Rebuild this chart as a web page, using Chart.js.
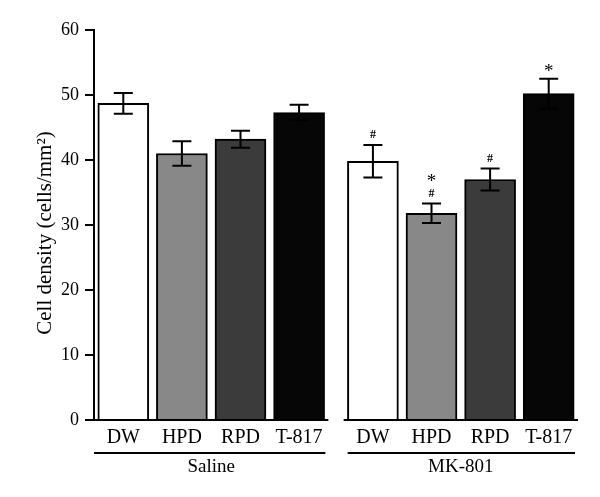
<!DOCTYPE html>
<html>
<head>
<meta charset="utf-8">
<script src="https://cdn.jsdelivr.net/npm/chart.js@4"></script>
<style>
  html, body { margin: 0; padding: 0; background: #fff; }
</style>
</head>
<body>
<canvas id="myChart" width="600" height="497"></canvas>
<script>
// data
const groups = ['Saline', 'MK-801'];
const treatments = ['DW', 'HPD', 'RPD', 'T-817'];
const meanDensity = [48.7, 41.0, 43.2, 47.3, 39.8, 31.8, 37.0, 50.2];
const errDensity = [1.6, 1.9, 1.3, 1.2, 2.5, 1.5, 1.7, 2.3];
const hashMarks = [false, false, false, false, true, true, true, false];
const starMarks = [false, false, false, false, false, true, false, true];
const yTicks = [0, 10, 20, 30, 40, 50, 60];
const yTitle = 'Cell density (cells/mm²)';

const barColors = ['#ffffff', '#888888', '#3b3b3b', '#060606'];
const groupGap = 0.26; // break between the two groups, in bar slots
const serif = '"Liberation Serif", "DejaVu Serif", serif';

// x position of each bar on the linear axis
const xPos = meanDensity.map((v, i) => Math.floor(i / 4) * (4 + groupGap) + (i % 4) + 0.5);

// error bars, significance marks, broken x axis, group labels, y title
const extras = {
  id: 'extras',
  afterDatasetsDraw(chart) {
    const ctx = chart.ctx;
    const x = chart.scales.x;
    const y = chart.scales.y;
    const meta = chart.getDatasetMeta(0);
    ctx.save();
    ctx.strokeStyle = '#000';
    ctx.fillStyle = '#000';
    ctx.lineWidth = 2;

    meta.data.forEach((bar, i) => {
      const top = y.getPixelForValue(meanDensity[i] + errDensity[i]);
      const bot = y.getPixelForValue(meanDensity[i] - errDensity[i]);
      const cx = bar.x;
      ctx.beginPath();
      ctx.moveTo(cx, top); ctx.lineTo(cx, bot);
      ctx.moveTo(cx - 9.5, top); ctx.lineTo(cx + 9.5, top);
      ctx.moveTo(cx - 9.5, bot); ctx.lineTo(cx + 9.5, bot);
      ctx.stroke();

      ctx.textAlign = 'center';
      ctx.textBaseline = 'middle';
      let mark = top - 10;
      if (hashMarks[i]) {
        ctx.font = 'bold 12px ' + serif;
        ctx.fillText('#', cx, mark);
        mark -= 15;
      }
      if (starMarks[i]) {
        ctx.font = '19px ' + serif;
        ctx.fillText('*', cx, mark + 3);
      }
    });

    // x axis, broken between groups, with group underlines
    const base = y.getPixelForValue(0);
    groups.forEach((g, k) => {
      const x0 = x.getPixelForValue(k * (4 + groupGap));
      const x1 = x.getPixelForValue(k * (4 + groupGap) + 4);
      ctx.lineWidth = 2;
      ctx.beginPath();
      ctx.moveTo(x0, base); ctx.lineTo(x1, base);
      ctx.moveTo(x0 + (k ? 4 : 0), 453); ctx.lineTo(x1 - 3, 453);
      ctx.stroke();
      ctx.font = '19px ' + serif;
      ctx.textAlign = 'center';
      ctx.textBaseline = 'middle';
      ctx.fillText(g, (x0 + x1) / 2, 467);
    });

    // rotated y axis title
    ctx.translate(45, 233);
    ctx.rotate(-Math.PI / 2);
    ctx.font = '21px ' + serif;
    ctx.textAlign = 'center';
    ctx.textBaseline = 'middle';
    ctx.fillText(yTitle, 0, 0);
    ctx.restore();
  }
};

const ctx = document.getElementById('myChart').getContext('2d');

new Chart(ctx, {
  type: 'bar',
  data: {
    datasets: [{
      data: meanDensity.map((v, i) => ({ x: xPos[i], y: v })),
      backgroundColor: meanDensity.map((v, i) => barColors[i % 4]),
      borderColor: '#000',
      borderWidth: 2,
      barThickness: 51
    }]
  },
  options: {
    responsive: false,
    animation: false,
    devicePixelRatio: 1,
    layout: { padding: { top: 30, right: 22, left: 0, bottom: 0 } },
    plugins: {
      legend: { display: false },
      tooltip: { enabled: false }
    },
    scales: {
      x: {
        type: 'linear',
        min: 0,
        max: 8 + groupGap,
        offset: false,
        border: { display: false },
        grid: { display: false, drawTicks: false, offset: false },
        afterBuildTicks: axis => { axis.ticks = xPos.map(v => ({ value: v })); },
        ticks: {
          autoSkip: false,
          maxRotation: 0,
          padding: 6,
          color: '#000',
          font: { family: serif, size: 20 },
          callback: (v, i) => treatments[i % 4]
        },
        afterFit: axis => { axis.height = 77; }
      },
      y: {
        min: 0,
        max: 60,
        afterBuildTicks: axis => { axis.ticks = yTicks.map(v => ({ value: v })); },
        border: { color: '#000', width: 2 },
        grid: { drawOnChartArea: false, drawTicks: true, tickLength: 9, color: '#000', lineWidth: 2 },
        ticks: { padding: 6, color: '#000', font: { family: serif, size: 18 } },
        afterFit: axis => { axis.width = 94; }
      }
    }
  },
  plugins: [extras]
});
</script>
</body>
</html>
